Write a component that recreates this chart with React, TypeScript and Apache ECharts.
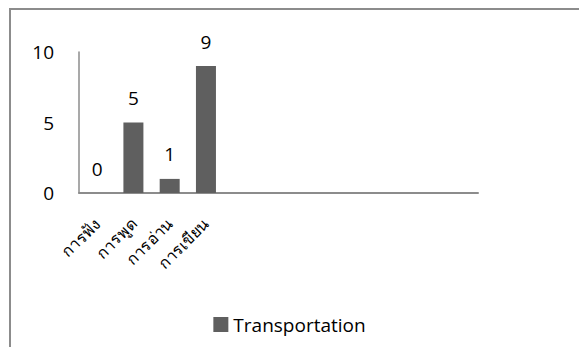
import React, { useEffect, useRef } from "react";
import * as echarts from "echarts";

const categories = ["การฟัง", "การพูด", "การอ่าน", "การเขียน", "", "", "", "", "", "", ""];
const values = [0, 5, 1, 9];
const seriesName = "Transportation";
const yTicks = { min: 0, max: 10, interval: 5 };

export default function App() {
  const ref = useRef<HTMLDivElement>(null);
  useEffect(() => {
    if (!ref.current) return;
    const chart = echarts.init(ref.current, null, { renderer: "svg" });
    const font = "'Open Sans', 'Noto Sans', sans-serif";
    chart.setOption({
      animation: false,
      backgroundColor: "#ffffff",
      textStyle: { fontFamily: font },
      graphic: [
        {
          type: "rect",
          shape: { x: 10, y: 9, width: 700, height: 500 },
          style: { fill: "none", stroke: "#8c8c8c", lineWidth: 2 },
          silent: true,
        },
      ],
      grid: { left: 79, right: 101, top: 52, bottom: 154, containLabel: false },
      legend: {
        bottom: 8,
        left: "center",
        itemWidth: 15,
        itemHeight: 15,
        itemGap: 10,
        textStyle: { fontSize: 19, color: "#000", fontFamily: font },
        data: [{ name: seriesName, icon: "rect" }],
      },
      xAxis: {
        type: "category",
        data: categories,
        axisLine: { show: true, lineStyle: { color: "#8c8c8c", width: 2 } },
        axisTick: { show: false },
        axisLabel: {
          interval: 0,
          rotate: 45,
          margin: 28,
          fontSize: 16,
          color: "#000",
        },
      },
      yAxis: {
        type: "value",
        min: yTicks.min,
        max: yTicks.max,
        interval: yTicks.interval,
        axisLine: { show: true, lineStyle: { color: "#8c8c8c", width: 1.5 } },
        axisTick: { show: false },
        splitLine: { show: false },
        axisLabel: { fontSize: 19, color: "#000", margin: 25 },
      },
      series: [
        {
          name: seriesName,
          type: "bar",
          data: values,
          barWidth: 20,
          itemStyle: { color: "#5f5f5f" },
          label: {
            show: true,
            position: "top",
            distance: 15,
            fontSize: 19,
            color: "#000",
          },
        },
      ],
    });
    return () => chart.dispose();
  }, []);
  return (
    <div
      ref={ref}
      style={{ position: "fixed", left: 0, top: 0, width: 579, height: 347 }}
    />
  );
}
